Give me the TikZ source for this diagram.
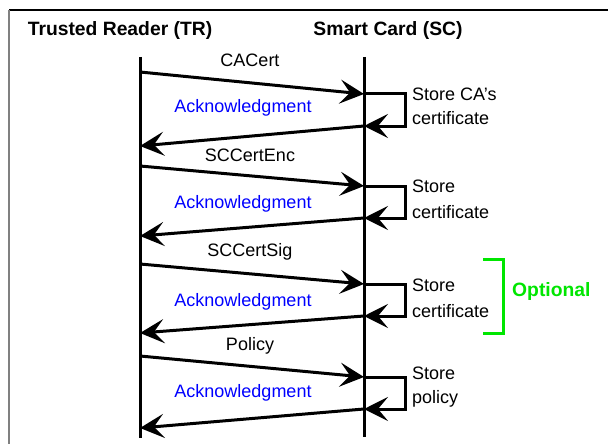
\documentclass[tikz,border=0pt]{standalone}
\usepackage{fontspec}
\setmainfont{Liberation Sans}
\usetikzlibrary{arrows.meta}
\definecolor{ackblue}{RGB}{0,0,255}
\definecolor{optgreen}{RGB}{0,230,0}
\begin{document}
\begin{tikzpicture}[x=1pt,y=-1pt,
  life/.style={line width=3pt},
  msg/.style={line width=3pt,-{Stealth[length=24pt,width=24pt,inset=10pt]}},
  lbl/.style={font=\fontsize{18}{21}\selectfont,inner sep=0pt},
  acklbl/.style={lbl,text=ackblue},
  store/.style={lbl,anchor=west,align=left},
  head/.style={font=\fontsize{19.3}{22}\selectfont\bfseries,inner sep=0pt}]
\useasboundingbox (0,0) rectangle (608,444);
\fill[white] (0,0) rectangle (608,444);
% frame
\coordinate (ftl) at (9,10); \coordinate (ftr) at (608,10); \coordinate (fbl) at (9,444);
\draw[line width=2pt] (ftl) -- (ftr);
\draw[line width=2pt,gray] (ftl) -- (fbl);
% headers
\node[head] (tr) at (120,31) {Trusted Reader (TR)};
\node[head] (sc) at (388,31) {Smart Card (SC)};
% lifelines
\coordinate (trtop) at (140,57); \coordinate (trbot) at (140,438);
\coordinate (sctop) at (364,57); \coordinate (scbot) at (364,437);
\draw[life] (trtop) -- (trbot);
\draw[life] (sctop) -- (scbot);
% exchanges
\foreach \i/\a/\b/\c/\d/\ml/\my/\ay in {1/72/94/126/146/CACert/60/108,
                                       2/166/186/218/236/SCCertEnc/155/204,
                                       3/264/284/316/333/SCCertSig/252/302,
                                       4/356/377/409/428/Policy/346/393}{
  \coordinate (s\i) at (140,\a);
  \coordinate (r\i) at (364,\b);
  \coordinate (lc\i) at (405,\b);
  \coordinate (ld\i) at (405,\c);
  \coordinate (le\i) at (364,\c);
  \coordinate (ae\i) at (140,\d);
  \draw[msg] (s\i) -- (r\i);
  \draw[msg,line join=miter] (r\i) -- (lc\i) -- (ld\i) -- (le\i);
  \draw[msg] (le\i) -- (ae\i);
  \node[lbl] (m\i) at (250,\my) {\ml};
  \node[acklbl] (ack\i) at (243,\ay) {Acknowledgment};
}
\node[store] (st1) at (412,94) {Store CA’s};
\node[store] (st1b) at (412,118) {certificate};
\node[store] (st2) at (412,186) {Store};
\node[store] (st2b) at (412,212) {certificate};
\node[store] (st3) at (412,285) {Store};
\node[store] (st3b) at (412,311) {certificate};
\node[store] (st4) at (412,373) {Store};
\node[store] (st4b) at (412,399) {policy};
% optional bracket
\coordinate (b1) at (483,259); \coordinate (b2) at (503,259);
\coordinate (b3) at (503,333); \coordinate (b4) at (483,333);
\draw[optgreen,line width=3pt] (b1) -- (b2) -- (b3) -- (b4);
\node[head,text=optgreen,anchor=west] (opt) at (512,292) {Optional};
\end{tikzpicture}
\end{document}
